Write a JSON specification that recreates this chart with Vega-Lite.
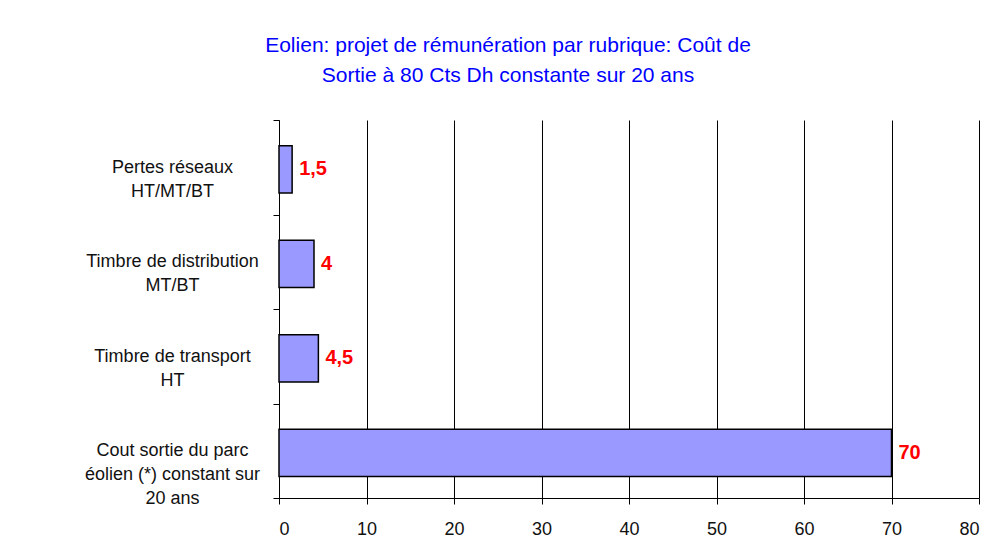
{
  "$schema": "https://vega.github.io/schema/vega-lite/v6.json",
  "autosize": {"type": "none"},
  "width": 700,
  "height": 378,
  "padding": {"left": 279, "top": 120, "right": 19, "bottom": 61},
  "background": "white",
  "title": {
    "text": ["Eolien: projet de rémunération par rubrique:  Coût de", "Sortie à 80 Cts Dh constante sur 20 ans"],
    "anchor": "middle",
    "frame": "group",
    "dx": -121,
    "offset": 25,
    "font": "Liberation Sans",
    "fontSize": 21,
    "fontWeight": "normal",
    "color": "#0000ff",
    "lineHeight": 30
  },
  "config": {
    "locale": {"number": {"decimal": ",", "thousands": " ", "grouping": [3], "currency": ["", " €"]}},
    "view": {"stroke": null},
    "axis": {"labelFont": "Liberation Sans", "labelFontSize": 18, "labelColor": "#111111"}
  },
  "data": {
    "values": [
      {"rubrique": "Pertes réseaux|HT/MT/BT", "valeur": 1.5},
      {"rubrique": "Timbre de distribution|MT/BT", "valeur": 4},
      {"rubrique": "Timbre de transport|HT", "valeur": 4.5},
      {"rubrique": "Cout sortie du parc|éolien (*) constant sur|20 ans", "valeur": 70}
    ]
  },
  "encoding": {
    "y": {
      "field": "rubrique",
      "type": "nominal",
      "sort": null,
      "scale": {"paddingInner": 0, "paddingOuter": 0},
      "axis": {
        "title": null,
        "labelExpr": "split(datum.label, '|')",
        "labelLineHeight": 24,
        "labelAlign": "center",
        "labelPadding": 101,
        "labelLimit": 400,
        "tickBand": "extent",
        "tickSize": 6,
        "tickColor": "#000000",
        "domainColor": "#000000",
        "grid": false
      }
    },
    "x": {
      "field": "valeur",
      "type": "quantitative",
      "scale": {"domain": [0, 80], "nice": false},
      "axis": {
        "title": null,
        "values": [0, 10, 20, 30, 40, 50, 60, 70, 80],
        "format": "d",
        "tickSize": 6,
        "tickColor": "#000000",
        "domainColor": "#000000",
        "labelPadding": 16,
        "grid": true,
        "gridColor": "#000000",
        "gridOpacity": 1,
        "gridWidth": 1
      }
    }
  },
  "layer": [
    {"mark": {"type": "bar", "height": {"band": 0.5}, "yOffset": 2, "fill": "#9999ff", "stroke": "#000000", "strokeWidth": 1.5}},
    {
      "mark": {"type": "text", "align": "left", "baseline": "middle", "dx": 7, "yOffset": 2, "font": "Liberation Sans", "fontSize": 20, "fontWeight": "bold", "color": "#ff0000"},
      "encoding": {"text": {"field": "valeur", "type": "quantitative", "format": "~r"}}
    }
  ]
}
